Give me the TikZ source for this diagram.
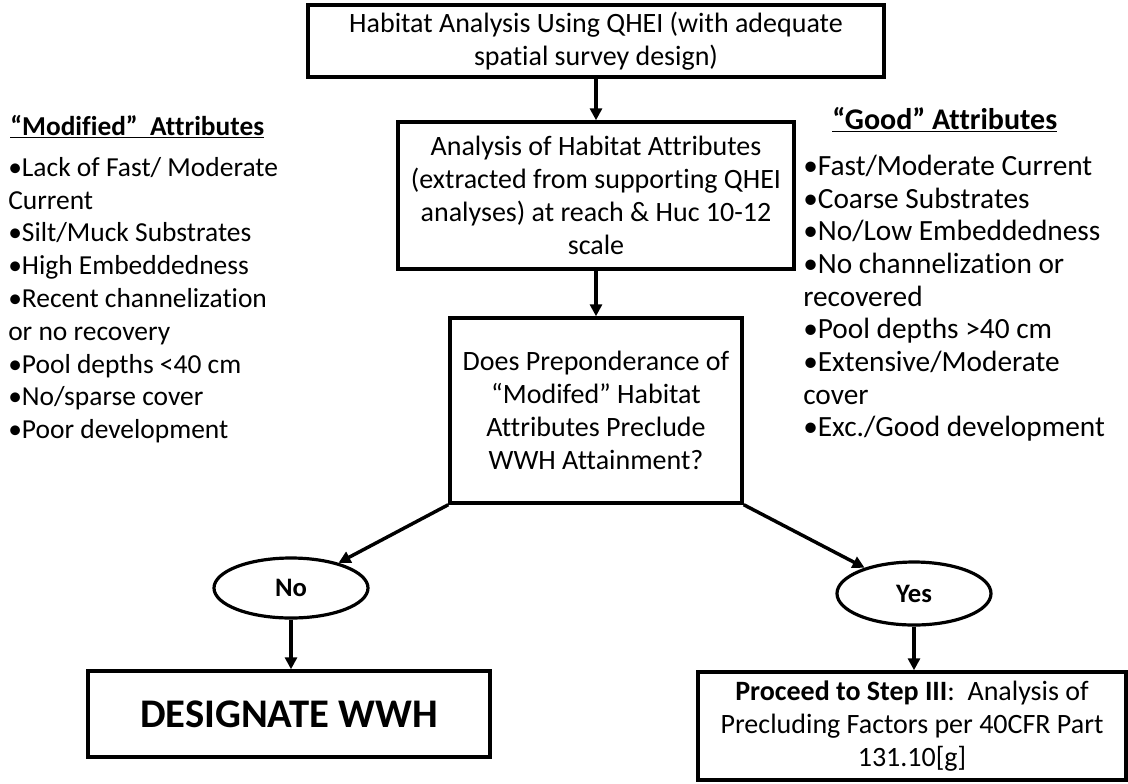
\documentclass[tikz,border=0pt]{standalone}
\usepackage{fontspec}
\setmainfont{Carlito}[Ligatures=NoCommon]
\usetikzlibrary{shapes.geometric, arrows.meta}

\tikzset{
  box/.style={draw, line width=2.6pt, inner sep=0pt, align=center,
    font=\fontsize{21}{24.75}\selectfont},
  choice/.style={draw, ellipse, line width=2.4pt, inner sep=0pt,
    minimum width=115.5pt, font=\fontsize{20}{24}\selectfont\bfseries},
  flow/.style={line width=2.6pt, -{Triangle[length=9pt, width=9pt]}},
  attrs/.style={align=left, inner sep=0pt, anchor=north west,
    font=\fontsize{20.6}{24.6}\selectfont},
  attrhead/.style={inner sep=0pt, anchor=base west,
    font=\fontsize{20.5}{24}\selectfont\bfseries},
}

\begin{document}
\begin{tikzpicture}[x=0.75pt, y=-0.75pt]
    \useasboundingbox (0,0) rectangle (1128,783);

    % main column
    \node [box, minimum width=432pt, minimum height=54pt] (survey) at (596,41)
      {Habitat Analysis Using QHEI (with adequate\\spatial survey design)};
    \node [box, minimum width=297pt, minimum height=110.25pt] (attrbox) at (596,195.5)
      {Analysis of Habitat Attributes\\(extracted from supporting QHEI\\analyses) at reach \& Huc 10-12\\scale};
    \node [box, minimum width=219pt, minimum height=138.75pt] (question) at (596,410.5)
      {Does Preponderance of\\“Modifed” Habitat\\Attributes Preclude\\WWH Attainment?};

    % answers
    \node [choice, minimum height=45pt] (no) at (291,588) {No};
    \node [choice, minimum height=47.25pt] (yes) at (914,593.5) {Yes};

    \node [box, minimum width=301.5pt, minimum height=64.5pt,
      font=\fontsize{30.5}{36}\selectfont\bfseries] (designate) at (289,714) {DESIGNATE WWH};
    \node [box, minimum width=321pt, minimum height=81pt] (stepthree) at (912,726)
      {\textbf{Proceed to Step III}:~ Analysis of\\Precluding Factors per 40CFR Part\\131.10[g]};

    \draw [flow] (survey) -- (attrbox);
    \draw [flow] (attrbox) -- (question);
    \draw [flow] (question.south west) -- (no);
    \draw [flow] (question.south east) -- (yes);
    \draw [flow] (no.south) -- (no.south |- designate.north);
    \draw [flow] (yes.south) -- (yes.south |- stepthree.north);

    % attribute lists
    \node [attrhead] (modhead) at (10,135) {\underline{“Modified”~ Attributes}};
    \node [attrs] (modlist) at (8,157)
      {•Lack of Fast/ Moderate\\Current\\•Silt/Muck Substrates\\•High Embeddedness\\•Recent channelization\\or no recovery\\•Pool depths <40 cm\\•No/sparse cover\\•Poor development};

    \node [attrhead, font=\fontsize{22.5}{26}\selectfont\bfseries] (goodhead) at (832,129)
      {\underline{“Good” Attributes}};
    \node [attrs, font=\fontsize{22}{24.5}\selectfont] (goodlist) at (803,155)
      {•Fast/Moderate Current\\•Coarse Substrates\\•No/Low Embeddedness\\•No channelization or\\recovered\\•Pool depths >40 cm\\•Extensive/Moderate\\cover\\•Exc./Good development};

\end{tikzpicture}
\end{document}
